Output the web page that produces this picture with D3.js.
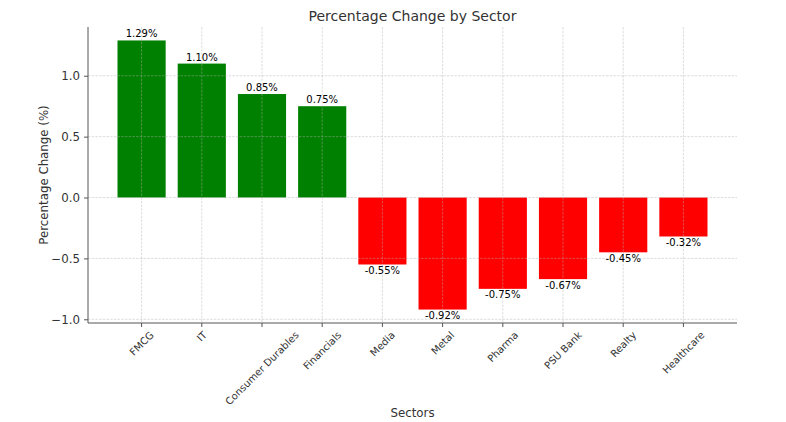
<!DOCTYPE html>
<html>
<head>
<meta charset="utf-8">
<script src="https://cdn.jsdelivr.net/npm/d3@7"></script>
<style>
  html, body { margin: 0; padding: 0; background: #fff; }
  svg { display: block; font-family: "DejaVu Sans", sans-serif; }
</style>
</head>
<body>
<svg id="chart" width="786" height="422"></svg>
<script>
const sectors = ["FMCG", "IT", "Consumer Durables", "Financials", "Media", "Metal", "Pharma", "PSU Bank", "Realty", "Healthcare"];
const changes = [1.29, 1.10, 0.85, 0.75, -0.55, -0.92, -0.75, -0.67, -0.45, -0.32];
const yTicks = [-1.0, -0.5, 0.0, 0.5, 1.0];
const titleText = "Percentage Change by Sector";
const xLabelText = "Sectors";
const yLabelText = "Percentage Change (%)";

(function () {
const svg = d3.select("#chart");
const pLeft = 88, pRight = 737, pTop = 27, pBottom = 323;

const x = d3.scaleBand().domain(sectors).range([pLeft, pRight]).paddingInner(0.2).paddingOuter(0.49);
const yMin = d3.min(changes), yMax = d3.max(changes);
const m = (yMax - yMin) * 0.05;
const y = d3.scaleLinear().domain([yMin - m, yMax + m]).range([pBottom, pTop]);

const textColor = "#333333";
const spineColor = "#555555";

// bars
svg.append("g").selectAll("rect").data(changes).join("rect")
  .attr("x", (d, i) => x(sectors[i]))
  .attr("width", x.bandwidth())
  .attr("y", d => y(Math.max(0, d)))
  .attr("height", d => Math.abs(y(d) - y(0)))
  .attr("fill", d => d >= 0 ? "#008000" : "#ff0000");

// grid (drawn on top)
const grid = svg.append("g").attr("stroke", "#b0b0b0").attr("stroke-opacity", 0.55)
  .attr("stroke-width", 0.8).attr("stroke-dasharray", "2.5,1.2");
grid.selectAll("line.h").data(yTicks).join("line").attr("class", "h")
  .attr("x1", pLeft).attr("x2", pRight)
  .attr("y1", d => y(d)).attr("y2", d => y(d));
grid.selectAll("line.v").data(sectors).join("line").attr("class", "v")
  .attr("x1", d => x(d) + x.bandwidth() / 2).attr("x2", d => x(d) + x.bandwidth() / 2)
  .attr("y1", pTop).attr("y2", pBottom);

// value labels
svg.append("g").selectAll("text").data(changes).join("text")
  .attr("x", (d, i) => x(sectors[i]) + x.bandwidth() / 2)
  .attr("y", d => d >= 0 ? y(d) - 3 : y(d) + 9.5)
  .attr("text-anchor", "middle")
  .attr("font-size", "10px")
  .attr("fill", "#000")
  .text(d => d.toFixed(2) + "%");

// y axis
const yAxis = d3.axisLeft(y).tickValues(yTicks).tickSize(4).tickPadding(4)
  .tickFormat(d => d3.format(".1f")(d).replace("-", "\u2212"));
const gy = svg.append("g").attr("transform", `translate(${pLeft},0)`).call(yAxis);
gy.select(".domain").attr("stroke", spineColor).attr("d", `M0,${pTop}V${pBottom}`);
gy.selectAll(".tick line").attr("stroke", spineColor);
gy.selectAll(".tick text").attr("fill", textColor).attr("font-size", "11.8px")
  .attr("font-family", "DejaVu Sans");

// x axis
const xAxis = d3.axisBottom(x).tickSize(4).tickFormat("");
const gx = svg.append("g").attr("transform", `translate(0,${pBottom})`).call(xAxis);
gx.select(".domain").attr("stroke", spineColor).attr("d", `M${pLeft},0H${pRight}`);
gx.selectAll(".tick line").attr("stroke", spineColor);

// rotated x tick labels (centered bbox, like matplotlib rotation=45 ha=center)
const fsX = 10;
const lblTop = 329;
const xl = svg.append("g");
sectors.forEach(s => {
  const cx = x(s) + x.bandwidth() / 2;
  const t = xl.append("text").attr("font-size", fsX + "px").attr("fill", textColor)
    .attr("text-anchor", "middle").text(s);
  const w = t.node().getComputedTextLength();
  const h = fsX * 1.17;
  const cy = lblTop + 0.7071 * (w + h) / 2;
  t.attr("x", cx).attr("y", cy).attr("dy", "0.36em")
    .attr("transform", `rotate(-45,${cx},${cy})`);
});

// titles
svg.append("text").attr("x", (pLeft + pRight) / 2).attr("y", 21)
  .attr("text-anchor", "middle").attr("font-size", "14px").attr("fill", textColor)
  .text(titleText);
svg.append("text").attr("x", (pLeft + pRight) / 2).attr("y", 417)
  .attr("text-anchor", "middle").attr("font-size", "11.8px").attr("fill", textColor)
  .text(xLabelText);
svg.append("text").attr("transform", `translate(48,${(pTop + pBottom) / 2}) rotate(-90)`)
  .attr("text-anchor", "middle").attr("font-size", "11.8px").attr("fill", textColor)
  .text(yLabelText);
})();
</script>
</body>
</html>
